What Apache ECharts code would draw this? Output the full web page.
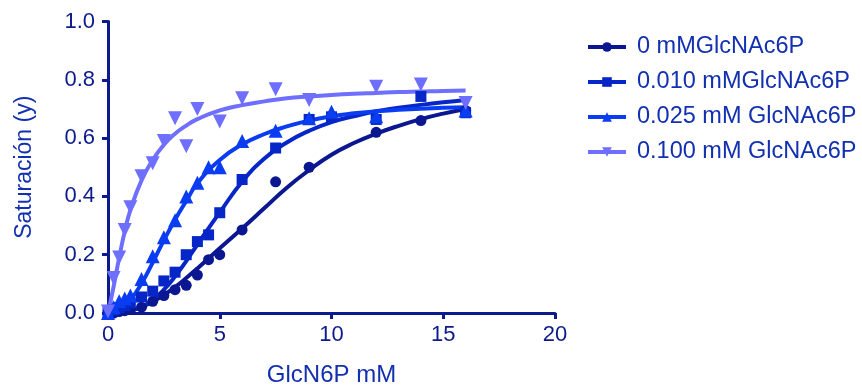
<!DOCTYPE html>
<html>
<head>
<meta charset="utf-8">
<script src="https://cdn.jsdelivr.net/npm/echarts@6/dist/echarts.min.js"></script>
<style>
html,body{margin:0;padding:0;background:#fff;}
#chart{width:862px;height:392px;}
</style>
</head>
<body>
<div id="chart"></div>
<script>
// ---- data ----
const seriesNames = ['0 mMGlcNAc6P', '0.010 mMGlcNAc6P', '0.025 mM GlcNAc6P', '0.100 mM GlcNAc6P'];
const xTicks = [0, 5, 10, 15, 20];
const yTicks = [0.0, 0.2, 0.4, 0.6, 0.8, 1.0];

// measured points (x = GlcN6P mM)
const pointX = [0, 0.25, 0.5, 0.75, 1, 1.5, 2, 2.5, 3, 3.5, 4, 4.5, 5, 6, 7.5, 9, 10, 12, 14, 16];
const pts0 = [0, 0, 0.005, 0.008, 0.012, 0.02, 0.04, 0.06, 0.08, 0.095, 0.13, 0.183, 0.20, 0.285, 0.45, 0.50, null, 0.62, 0.66, 0.695];
const pts1 = [0, 0.01, 0.018, 0.025, 0.035, 0.055, 0.075, 0.11, 0.14, 0.20, 0.245, 0.268, 0.344, 0.458, 0.566, 0.664, 0.673, 0.664, 0.743, 0.687];
const pts2 = [0, 0.02, 0.04, 0.05, 0.06, 0.117, 0.195, 0.26, 0.318, 0.40, 0.447, 0.50, 0.50, 0.59, 0.625, 0.668, 0.69, 0.675, null, 0.695];
const pts3 = [0.005, 0.12, 0.19, 0.285, 0.363, 0.469, 0.514, 0.59, 0.668, 0.572, 0.70, null, 0.657, 0.737, 0.768, 0.731, null, 0.776, 0.784, 0.72];

// fitted curves
const curveX = [0, 0.25, 0.5, 0.75, 1, 1.5, 2, 2.5, 3, 3.5, 4, 5, 6, 7, 8, 9, 10, 11, 12, 13, 14, 15, 16];
const curve0 = [0, 0.001, 0.002, 0.005, 0.009, 0.021, 0.039, 0.062, 0.089, 0.12, 0.153, 0.222, 0.29, 0.36, 0.43, 0.49, 0.543, 0.583, 0.615, 0.642, 0.665, 0.684, 0.70];
const curve1 = [0, 0.001, 0.002, 0.004, 0.008, 0.02, 0.045, 0.08, 0.125, 0.178, 0.235, 0.345, 0.45, 0.53, 0.585, 0.625, 0.655, 0.675, 0.692, 0.704, 0.714, 0.723, 0.731];
const curve2 = [0, 0.002, 0.009, 0.024, 0.043, 0.101, 0.173, 0.249, 0.32, 0.384, 0.445, 0.525, 0.578, 0.614, 0.64, 0.66, 0.675, 0.685, 0.692, 0.697, 0.701, 0.704, 0.706];
const curve3 = [0, 0.09, 0.19, 0.28, 0.353, 0.455, 0.525, 0.577, 0.615, 0.643, 0.665, 0.695, 0.713, 0.726, 0.737, 0.743, 0.748, 0.752, 0.755, 0.758, 0.76, 0.762, 0.763];

// ---- styling ----
const colors = ['#0a1790', '#0626c8', '#0a3cf2', '#6e6eff'];
const symbols = ['circle', 'rect', 'triangle', 'path://M0,0 L10,0 L5,9 Z'];
const symSizes = [11, 11, 14, 14];
const axisColor = '#0b1a8c';
const textColor = '#1230b0';
const font = 'Arial, "Liberation Sans", sans-serif';

const allPts = [pts0, pts1, pts2, pts3];
const allCurves = [curve0, curve1, curve2, curve3];

const series = [];
seriesNames.forEach((name, i) => {
  series.push({
    name: name,
    type: 'line',
    data: curveX.map((x, k) => [x, allCurves[i][k]]),
    smooth: 0.5,
    showSymbol: false,
    symbol: symbols[i],
    symbolSize: symSizes[i] - 2,
    lineStyle: { color: colors[i], width: 4 },
    itemStyle: { color: colors[i] },
    z: 2,
    silent: true
  });
  series.push({
    name: name + '_pts',
    type: 'scatter',
    data: pointX.map((x, k) => [x, allPts[i][k]]).filter(p => p[1] !== null),
    symbol: symbols[i],
    symbolSize: symSizes[i],
    itemStyle: { color: colors[i], opacity: 1 },
    z: 3,
    silent: true
  });
});

const chart = echarts.init(document.getElementById('chart'), null, { renderer: 'canvas' });
chart.setOption({
  animation: false,
  backgroundColor: '#ffffff',
  textStyle: { fontFamily: font },
  grid: { left: 108, right: 307, top: 21.5, bottom: 72, containLabel: false },
  legend: {
    data: seriesNames,
    orient: 'vertical',
    left: 581,
    top: 30,
    itemWidth: 38,
    itemHeight: 12,
    itemGap: 11,
    lineStyle: { width: 4 },
    textStyle: { color: textColor, fontSize: 23.5, fontFamily: font, padding: [0, 0, 0, 6] },
    selectedMode: false
  },
  xAxis: {
    type: 'value',
    min: 0, max: 20, interval: 5,
    name: 'GlcN6P mM',
    nameLocation: 'middle',
    nameGap: 50,
    nameTextStyle: { color: textColor, fontSize: 24, fontFamily: font },
    axisLine: { onZero: false, lineStyle: { color: axisColor, width: 3 } },
    axisTick: { show: true, length: 6, lineStyle: { color: axisColor, width: 3 } },
    axisLabel: { color: axisColor, fontSize: 22, margin: 11, fontFamily: font,
      formatter: v => xTicks.includes(v) ? String(v) : '' },
    splitLine: { show: false }
  },
  yAxis: {
    type: 'value',
    min: 0, max: 1, interval: 0.2,
    name: 'Saturación (y)',
    nameLocation: 'middle',
    nameGap: 72,
    nameTextStyle: { color: textColor, fontSize: 23, fontFamily: font },
    axisLine: { onZero: false, lineStyle: { color: axisColor, width: 3 } },
    axisTick: { show: true, length: 6, lineStyle: { color: axisColor, width: 3 } },
    axisLabel: { color: axisColor, fontSize: 22, margin: 13, fontFamily: font,
      formatter: v => { const t = yTicks.find(y => Math.abs(y - v) < 1e-6); return t === undefined ? '' : t.toFixed(1); } },
    splitLine: { show: false }
  },
  series: series
});
</script>
</body>
</html>
